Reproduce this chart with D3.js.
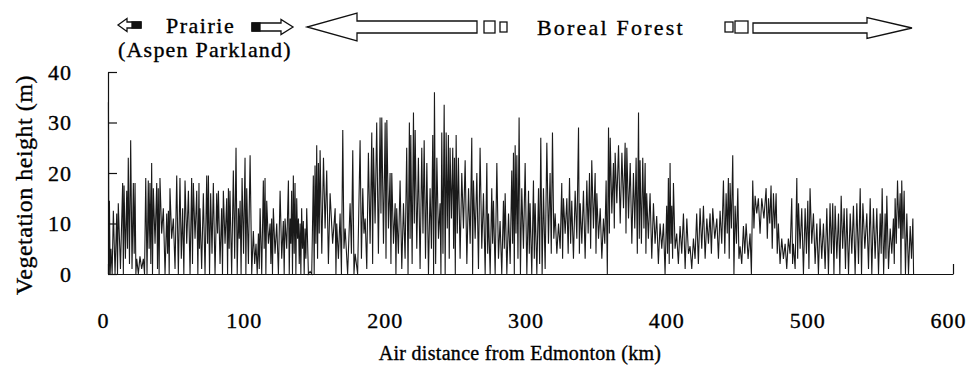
<!DOCTYPE html>
<html>
<head>
<meta charset="utf-8">
<script src="https://cdn.jsdelivr.net/npm/d3@7/dist/d3.min.js"></script>
<style>
  html, body { margin: 0; padding: 0; background: #fff; }
  svg text { font-family: "Liberation Serif", "Times New Roman", serif; fill: #000; stroke: #000; stroke-width: 0.35px; }
</style>
</head>
<body>
<svg id="chart" width="971" height="373"></svg>
<script>
// transect samples: distance (km), local canopy peak (m), following trough (m)
const distanceKm = [
  0.3, 1.0, 2.1, 3.8, 6.2, 7.3, 10.4, 11.4, 13.3, 14.4, 16.1, 18.0, 19.2, 20.4, 22.7, 25.1,
  26.8, 28.6, 29.8, 31.0, 32.2, 34.6, 35.7, 36.9, 39.3, 41.7, 42.9, 44.0, 46.4, 48.8, 51.1, 53.0,
  54.7, 57.1, 59.4, 60.6, 63.0, 64.6, 65.3, 67.7, 70.1, 71.3, 72.9, 74.8, 77.2, 78.4, 80.7, 81.9,
  84.3, 85.5, 86.6, 89.0, 90.9, 92.6, 93.8, 95.2, 97.3, 98.5, 100.9, 103.2, 105.1, 106.8, 108.0, 110.3,
  111.5, 112.7, 115.1, 116.2, 117.4, 119.8, 122.2, 124.5, 125.7, 128.1, 129.3, 130.4, 131.6, 132.8, 134.0, 135.2,
  136.4, 137.5, 138.7, 139.9, 141.1, 143.5, 145.8, 147.0, 148.2, 149.4,
  150.6, 153.0, 155.3, 157.7, 161.3, 162.4, 164.8, 166.7, 168.4, 171.9, 173.8, 175.5, 179.0, 180.9, 182.6, 184.9,
  187.3, 188.5, 190.8, 193.2, 194.4, 196.8, 198.0, 200.3, 201.5, 203.9, 205.0, 207.4, 209.8, 212.1, 214.0, 215.0,
  216.9, 218.1, 220.4, 222.8, 224.5, 226.4, 228.7, 230.6, 231.8, 233.5, 235.8, 237.0, 238.7, 240.1, 241.7, 242.9,
  244.8, 246.0, 247.2, 248.8, 251.2, 253.6, 256.0, 258.3, 259.5, 261.9, 264.2, 266.6, 269.0, 270.2, 272.5, 273.7,
  276.1, 278.4, 280.8, 282.0, 284.4, 286.7, 287.9, 289.1, 290.3, 291.9, 293.8, 296.2, 298.6, 299.7, 302.1, 303.3,
  305.7, 307.3, 309.2, 311.6, 313.9, 315.6, 317.5, 319.9, 322.2, 323.4, 325.8, 327.7, 329.3, 331.7, 334.1, 335.3,
  337.6, 340.0, 341.9, 343.5, 345.9, 347.1, 349.5, 351.8, 353.7, 355.4, 356.6, 358.9, 360.1, 362.5, 364.9, 367.2,
  368.4, 370.8, 373.1, 375.0, 376.7,
  377.8, 379.7, 381.4, 382.5, 384.9, 387.3, 389.6, 392.0, 394.4, 396.7, 397.9, 399.1, 400.3, 401.5, 403.8, 406.2,
  408.6, 411.0, 413.3, 415.7, 418.0, 420.4, 422.8, 425.2, 427.5, 429.4, 432.3, 434.6, 437.0, 438.9, 440.5, 441.7,
  443.6, 445.3, 447.2, 448.8, 451.2, 453.1, 455.9, 457.8, 459.5, 461.8, 464.2, 467.3, 469.0, 470.8, 472.5, 474.4,
  476.0, 478.4, 480.8, 483.1, 485.5, 486.7, 489.1, 490.3, 492.6, 495.0, 496.9, 498.5, 500.9, 503.3, 505.6, 508.0,
  510.4, 512.7, 514.6, 516.3, 518.7, 520.6, 522.7, 524.6, 527.0, 529.3, 531.7, 534.1, 536.0, 538.8, 541.2, 543.5,
  545.9, 548.3, 549.7, 551.8, 553.0, 555.4, 557.7, 558.9, 560.6, 562.5, 563.6, 565.3, 567.2, 569.6, 571.5
];
const peakHeight = [
  34, 14.5, 5, 12.5, 12, 14, 18, 17.5, 16.5, 23, 26.5, 18, 18, 3, 3.5, 3,
  19, 18.5, 18, 22, 17, 18, 17, 19, 13, 12, 12.5, 17, 11, 19.5, 19, 13,
  18.5, 16.5, 19, 18, 16.5, 18, 13, 16, 19.5, 19.5, 16, 18, 16, 16.5, 13, 16.5,
  15, 17, 16.5, 20.5, 25, 13, 14.5, 19, 23, 17, 23.5, 8.5, 6, 8, 13, 18.5,
  19, 14.5, 10, 11, 13, 10, 16.5, 10.5, 11, 18.5, 11, 16.5, 19.5, 18, 15, 11,
  10, 13, 10.5, 9, 13, 0.5, 19.5, 21.5, 25.5, 22,
  24.5, 23, 20.5, 16, 13, 10, 12, 28.5, 9, 14, 24.5, 4, 26.5, 17, 11, 24,
  28, 25, 30, 31, 31, 30, 30.5, 20, 20, 14, 13, 18.5, 14, 25, 30, 27.5,
  32, 28.5, 23, 25, 26.5, 22, 17, 27.5, 36, 23, 14, 28, 33.5, 28, 27.5, 25,
  25, 23, 27.5, 23, 20, 22.5, 17, 27, 18.5, 20, 25, 16, 22, 12, 17, 14.5,
  22, 10.5, 14.5, 16, 12, 20.5, 24, 25.5, 23.5, 31, 17, 22, 16.5, 14, 18.5, 14,
  17, 27, 17, 26, 20, 28, 12, 10, 18, 15, 15, 19, 14.5, 16.5, 29, 14,
  16.5, 18.5, 20, 22.5, 20, 16, 13, 11, 18.5, 29, 27, 22, 24, 25.5, 24, 26,
  25, 22, 20, 23, 32,
  22.5, 23, 22, 16, 16, 14, 11.5, 10, 10, 13.5, 19, 22, 13.5, 18, 8, 9.5,
  12, 11, 5.5, 7, 12, 13, 13.5, 11, 12, 13, 11, 12.5, 18.5, 16, 19, 18,
  23.5, 13.5, 17, 5.5, 9.5, 10, 8, 18.5, 15.5, 15, 15, 17, 15, 17.5, 16, 16,
  10, 7, 6, 7, 15, 6, 19, 14, 13, 13, 14.5, 17, 12, 10, 11, 10,
  13, 14, 14, 13.5, 12, 15.5, 13, 13, 12, 13.5, 14, 17, 14, 12, 15, 13,
  13, 12, 17, 12, 15.5, 9, 11, 15, 18.5, 16, 18.5, 16.5, 12, 9.5, 11
];
const troughHeight = [
  0, 0, 0, 0, 0, 1, 0, 3, 5, 2, 1, 4, 0, 0, 1, 0,
  0, 5, 2, 0, 6, 1, 0, 8, 0, 4, 0, 7, 1, 0, 3, 0,
  6, 0, 2, 7, 0, 5, 1, 0, 6, 0, 4, 0, 8, 2, 0, 6,
  0, 5, 0, 3, 0, 7, 0, 4, 0, 2, 0, 2, 0, 1, 0, 5,
  0, 6, 2, 0, 4, 0, 3, 0, 5, 0, 6, 0, 4, 0, 7, 2,
  0, 5, 0, 3, 0, 0, 0, 6, 3, 8,
  4, 9, 2, 6, 0, 3, 0, 5, 0, 4, 0, 0, 3, 8, 1, 6,
  2, 10, 4, 12, 6, 3, 9, 2, 6, 0, 4, 1, 3, 0, 7, 2,
  10, 5, 1, 8, 3, 0, 5, 0, 2, 7, 0, 4, 0, 9, 3, 11,
  5, 0, 8, 3, 9, 2, 6, 0, 7, 1, 5, 0, 4, 0, 6, 0,
  3, 0, 5, 0, 2, 6, 0, 8, 3, 0, 5, 0, 4, 0, 3, 0,
  2, 0, 1, 6, 4, 7, 4, 5, 3, 8, 4, 6, 3, 7, 4, 6,
  3, 8, 5, 9, 4, 7, 3, 6, 0, 8, 12, 9, 14, 10, 13, 8,
  11, 6, 9, 4, 7,
  6, 9, 4, 7, 3, 6, 2, 5, 0, 4, 2, 6, 3, 5, 2, 4,
  1, 4, 1, 3, 2, 5, 3, 6, 4, 7, 3, 6, 4, 8, 3, 9,
  0, 6, 3, 2, 4, 3, 0, 9, 12, 8, 11, 7, 10, 5, 9, 4,
  2, 3, 1, 4, 2, 1, 3, 5, 0, 4, 1, 6, 2, 0, 3, 1,
  0, 4, 0, 3, 0, 5, 1, 0, 4, 0, 2, 0, 5, 1, 0, 3,
  0, 4, 0, 3, 1, 4, 2, 6, 9, 0, 7, 0, 0, 3, 0
];
const xTicks = [0, 100, 200, 300, 400, 500, 600];
const yTicks = [0, 10, 20, 30, 40];

const svg = d3.select('#chart');

const x = d3.scaleLinear().domain([0, 600]).range([108, 953]);
const y = d3.scaleLinear().domain([0, 40]).range([274, 72]);

// zig-zag: each sample rises to its peak then drops to the trough before the next one
const pts = [];
distanceKm.forEach((d, i) => {
  const next = i < distanceKm.length - 1 ? distanceKm[i + 1] : d + 1;
  pts.push([d, peakHeight[i]]);
  pts.push([d + (next - d) * 0.5, troughHeight[i]]);
});

const line = d3.line().x(p => x(p[0])).y(p => y(p[1]));

svg.append('path')
  .datum(pts)
  .attr('d', line)
  .attr('fill', 'none')
  .attr('stroke', '#1a1a1a')
  .attr('stroke-width', 1.1);

// axes
const yAxis = svg.append('g')
  .attr('transform', 'translate(108,0)')
  .call(d3.axisLeft(y).tickValues(yTicks).tickSizeInner(-9).tickSizeOuter(0).tickPadding(36));

const xAxis = svg.append('g')
  .attr('transform', `translate(0,${y(0)})`)
  .call(d3.axisBottom(x).tickValues(xTicks).tickSizeInner(-10).tickSizeOuter(0).tickPadding(38));

[yAxis, xAxis].forEach(g => {
  g.selectAll('path, line').attr('stroke', '#111').attr('stroke-width', 1.2);
  g.selectAll('text')
    .style('font-family', '"Liberation Serif", "Times New Roman", serif')
    .style('font-size', '22px')
    .style('letter-spacing', '1px')
    .attr('fill', '#000');
});
xAxis.selectAll('text').attr('dx', -5);
xAxis.selectAll('.tick').filter(d => d > 0 && d < 600).select('line').remove();

// axis titles
svg.append('text')
  .attr('transform', 'translate(32,185) rotate(-90)')
  .attr('text-anchor', 'middle')
  .style('font-size', '24px')
  .style('letter-spacing', '0.5px')
  .text('Vegetation height (m)');

svg.append('text')
  .attr('x', 520).attr('y', 360)
  .attr('text-anchor', 'middle')
  .style('font-size', '20px')
  .style('letter-spacing', '0.3px')
  .text('Air distance from Edmonton (km)');

// vegetation zone annotation
function arrowPath(tail, tip, cy, bodyH, headH, headL) {
  const dir = tip > tail ? 1 : -1;
  const base = tip - dir * headL;
  return `M${tail},${cy - bodyH / 2} L${base},${cy - bodyH / 2} L${base},${cy - headH / 2}` +
    ` L${tip},${cy} L${base},${cy + headH / 2} L${base},${cy + bodyH / 2} L${tail},${cy + bodyH / 2} Z`;
}

const ann = svg.append('g').attr('stroke', '#111').attr('stroke-width', 1.3).attr('fill', '#fff');

ann.append('path').attr('d', arrowPath(141, 118, 25, 6, 13, 9));
ann.append('rect').attr('x', 132).attr('y', 22).attr('width', 9).attr('height', 6).attr('fill', '#111');

ann.append('path').attr('d', arrowPath(252, 293, 27, 8, 15, 12));
ann.append('rect').attr('x', 252).attr('y', 23).attr('width', 8).attr('height', 8).attr('fill', '#111');

ann.append('path').attr('d', arrowPath(477, 307, 27, 12, 28, 50));
ann.append('rect').attr('x', 484).attr('y', 21).attr('width', 11).attr('height', 12);
ann.append('rect').attr('x', 500).attr('y', 22).attr('width', 7).attr('height', 10);

ann.append('rect').attr('x', 725).attr('y', 22).attr('width', 8).attr('height', 10);
ann.append('rect').attr('x', 735).attr('y', 21).attr('width', 13).attr('height', 12);
ann.append('path').attr('d', arrowPath(753, 912, 28, 10, 21, 45));

svg.append('text').attr('x', 166).attr('y', 33)
  .style('font-size', '22px').style('letter-spacing', '1.5px').text('Prairie');
svg.append('text').attr('x', 118).attr('y', 57)
  .style('font-size', '22px').style('letter-spacing', '1.2px').text('(Aspen Parkland)');
svg.append('text').attr('x', 537).attr('y', 35)
  .style('font-size', '22px').style('letter-spacing', '2.2px').text('Boreal Forest');
</script>
</body>
</html>
